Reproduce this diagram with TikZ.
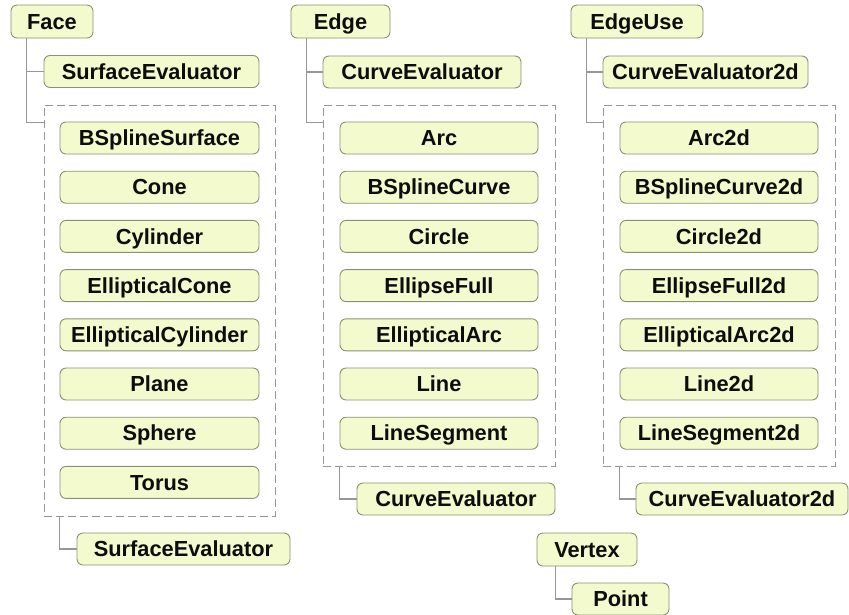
\documentclass[tikz,border=0pt]{standalone}
\usepackage{fontspec}
\setmainfont{Liberation Sans}
\definecolor{boxfill}{RGB}{242,250,206}
\definecolor{boxline}{RGB}{140,145,115}
\definecolor{conn}{RGB}{150,150,150}
\begin{document}
\begin{tikzpicture}[x=1pt,y=-1pt,
  box/.style={draw=boxline, fill=boxfill, rounded corners=6pt, line width=0.9pt,
    minimum height=32pt, inner sep=0pt, text height=15.5pt, text depth=0pt,
    font=\fontsize{21.8}{25}\selectfont\bfseries, text=black!95},
  grp/.style={draw=conn, dash pattern=on 8pt off 4pt, line width=1pt, inner sep=0pt},
  link/.style={draw=conn, line width=1.1pt}]
\useasboundingbox (0,0) rectangle (849,614);

% ---------- Face column ----------
\node[box, minimum width=82pt, minimum height=33pt] (face) at (52,21.5) {Face};
\node[box, minimum width=215pt] (se1) at (151.5,71.5) {SurfaceEvaluator};
\node[grp, minimum width=231pt, minimum height=411pt] (fg) at (159.5,310.5) {};
\foreach \t [count=\i from 0] in {BSplineSurface,Cone,Cylinder,EllipticalCone,EllipticalCylinder,Plane,Sphere,Torus}
  \node[box, minimum width=199pt] (f\i) at (159.5,138+49.2*\i) {\t};
\node[box, minimum width=213pt] (se2) at (183.5,549) {SurfaceEvaluator};
\draw[link] ([xshift=16pt]face.south west) |- (se1.west);
\draw[link] ([xshift=16pt]face.south west) |- ([yshift=-18pt]fg.north west);
\draw[link] ([xshift=16pt]fg.south west) |- (se2.west);

% ---------- Edge column ----------
\node[box, minimum width=99pt, minimum height=33pt] (edge) at (340.5,21.5) {Edge};
\node[box, minimum width=198pt] (ce1) at (422,72) {CurveEvaluator};
\node[grp, minimum width=232pt, minimum height=361pt] (eg) at (439,285.5) {};
\foreach \t [count=\i from 0] in {Arc,BSplineCurve,Circle,EllipseFull,EllipticalArc,Line,LineSegment}
  \node[box, minimum width=198pt] (e\i) at (439,138+49.2*\i) {\t};
\node[box, minimum width=198pt] (ce2) at (456,499) {CurveEvaluator};
\draw[link] ([xshift=16pt]edge.south west) |- (ce1.west);
\draw[link] ([xshift=16pt]edge.south west) |- ([yshift=-18pt]eg.north west);
\draw[link] ([xshift=17pt]eg.south west) |- (ce2.west);

% ---------- EdgeUse column ----------
\node[box, minimum width=132pt, minimum height=33pt] (edgeuse) at (637,21.5) {EdgeUse};
\node[box, minimum width=205pt] (cu1) at (705.5,72) {CurveEvaluator2d};
\node[grp, minimum width=232pt, minimum height=361pt] (ug) at (719,285.5) {};
\foreach \t [count=\i from 0] in {Arc2d,BSplineCurve2d,Circle2d,EllipseFull2d,EllipticalArc2d,Line2d,LineSegment2d}
  \node[box, minimum width=198pt] (u\i) at (719,138+49.2*\i) {\t};
\node[box, minimum width=212pt] (cu2) at (742,499) {CurveEvaluator2d};
\draw[link] ([xshift=16pt]edgeuse.south west) |- (cu1.west);
\draw[link] ([xshift=16pt]edgeuse.south west) |- ([yshift=-18pt]ug.north west);
\draw[link] ([xshift=17pt]ug.south west) |- (cu2.west);

% ---------- Vertex ----------
\node[box, minimum width=100pt, minimum height=33pt] (vertex) at (587,549.5) {Vertex};
\node[box, minimum width=97pt] (point) at (620.5,599) {Point};
\draw[link] ([xshift=19pt]vertex.south west) |- (point.west);
\end{tikzpicture}
\end{document}
